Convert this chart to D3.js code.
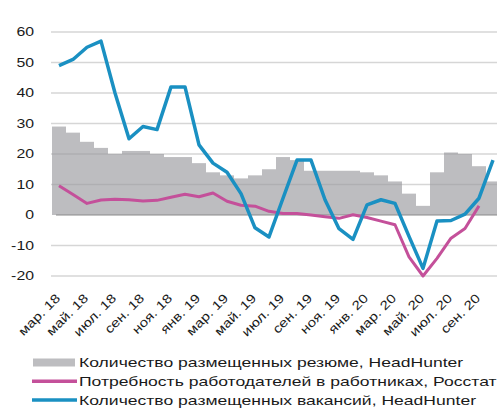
<!DOCTYPE html>
<html>
<head>
<meta charset="utf-8">
<script src="https://cdn.jsdelivr.net/npm/d3@7"></script>
<style>
    body { margin: 0; background: #fff; }
    svg text { font-family: Arial, "Liberation Sans", sans-serif; fill: #1a1a1a; }
</style>
</head>
<body>
<script>
// monthly categories, mar.18 .. oct.20
var months = ["мар. 18","апр. 18","май. 18","июн. 18","июл. 18","авг. 18","сен. 18","окт. 18",
              "ноя. 18","дек. 18","янв. 19","фев. 19","мар. 19","апр. 19","май. 19","июн. 19",
              "июл. 19","авг. 19","сен. 19","окт. 19","ноя. 19","дек. 19","янв. 20","фев. 20",
              "мар. 20","апр. 20","май. 20","июн. 20","июл. 20","авг. 20","сен. 20","окт. 20"];

// Количество размещенных резюме, HeadHunter (bars)
var resumes = [29, 27, 24, 22, 20, 21, 21, 20, 19, 19, 17, 14, 13, 12, 13, 15,
               19, 18, 14.5, 14.5, 14.5, 14.5, 14, 13, 11, 7, 3, 14, 20.5, 20, 16, 11];

// Потребность работодателей в работниках, Росстат (ends at sep.20)
var demand = [9.6, 6.7, 3.8, 4.9, 5.2, 5.0, 4.6, 4.8, 5.8, 6.8, 6.0, 7.2, 4.5, 3.2, 2.9, 1.2,
              0.5, 0.5, 0, -0.6, -1.1, 0.1, -0.8, -2.0, -3.2, -13.7, -20, -14.2, -7.6, -4.4, 3];

// Количество размещенных вакансий, HeadHunter
var vacancies = [49, 51, 55, 57, 40, 25, 29, 28, 42, 42, 23, 17, 14, 7, -4.2, -7.2,
                 5.5, 18, 18, 5, -4.5, -8, 3.3, 5, 3.8, -7, -17.5, -2, -1.8, 0.3, 5.5, 18];

var yTicks = [-20, -10, 0, 10, 20, 30, 40, 50, 60];

var legendItems = [
    { label: "Количество размещенных резюме, HeadHunter", kind: "bar" },
    { label: "Потребность работодателей в работниках, Росстат", kind: "line", color: "#c4509a" },
    { label: "Количество размещенных вакансий, HeadHunter", kind: "line", color: "#1a90c2" }
];

var w = 497, h = 408;
var blue = "#1a90c2", pink = "#c4509a";

var svg = d3.select("body").append("svg")
    .attr("width", w)
    .attr("height", h);

var x = d3.scaleBand().domain(months).range([52, 500]).padding(0);
var y = d3.scaleLinear().domain([-20, 60]).range([276, 32]);

// gridlines (under the bars)
svg.append("g").selectAll("line")
    .data(yTicks.filter(function(d) { return d !== 0; }))
    .enter().append("line")
    .attr("x1", 51).attr("x2", w)
    .attr("y1", function(d) { return y(d); })
    .attr("y2", function(d) { return y(d); })
    .attr("stroke", "#d6d6d6")
    .attr("stroke-width", 1.3);

// y labels
svg.append("g").selectAll("text")
    .data(yTicks)
    .enter().append("text")
    .attr("transform", function(d) { return "translate(34," + y(d) + ") scale(1.32,1)"; })
    .attr("dy", "0.36em")
    .attr("text-anchor", "end")
    .style("font-size", "12px")
    .text(function(d) { return d; });

// resume bars
svg.append("g").selectAll("rect")
    .data(resumes)
    .enter().append("rect")
    .attr("x", function(d, i) { return x(months[i]); })
    .attr("width", x.bandwidth())
    .attr("y", function(d) { return y(Math.max(0, d)); })
    .attr("height", function(d) { return Math.abs(y(d) - y(0)); })
    .attr("fill", "#9a9a9e")
    .attr("fill-opacity", 0.65);

// zero line
svg.append("line")
    .attr("x1", 56).attr("x2", w)
    .attr("y1", y(0)).attr("y2", y(0))
    .attr("stroke", "#8a8a8a")
    .attr("stroke-width", 1.2);

var line = d3.line()
    .x(function(d, i) { return x(months[i]) + x.bandwidth() / 2; })
    .y(function(d) { return y(d); });

svg.append("path")
    .datum(demand)
    .attr("d", line)
    .attr("fill", "none")
    .attr("stroke", pink)
    .attr("stroke-width", 3)
    .attr("stroke-linejoin", "round");

svg.append("path")
    .datum(vacancies)
    .attr("d", line)
    .attr("fill", "none")
    .attr("stroke", blue)
    .attr("stroke-width", 3.5)
    .attr("stroke-linejoin", "round");

// x labels, every second month, rotated
svg.append("g").selectAll("text")
    .data(months.filter(function(d, i) { return i % 2 === 0; }))
    .enter().append("text")
    .attr("transform", function(d) {
        return "translate(" + (x(d) + x.bandwidth() / 2 + 2) + ",299) rotate(-45) scale(1.22,1)";
    })
    .attr("text-anchor", "end")
    .style("font-size", "12.5px")
    .text(function(d) { return d; });

// legend
var leg = svg.append("g");
legendItems.forEach(function(item, i) {
    var ly = 362.5 + i * 18.7;
    if (item.kind === "bar") {
        leg.append("rect")
            .attr("x", 33).attr("y", ly - 4)
            .attr("width", 42).attr("height", 8)
            .attr("fill", "#9a9a9e")
            .attr("fill-opacity", 0.65);
    } else {
        leg.append("line")
            .attr("x1", 32).attr("x2", 77)
            .attr("y1", ly).attr("y2", ly)
            .attr("stroke", item.color)
            .attr("stroke-width", 3.5);
    }
    leg.append("text")
        .attr("transform", "translate(79," + ly + ") scale(1.35,1)")
        .attr("dy", "0.36em")
        .style("font-size", "13px")
        .text(item.label);
});
</script>
</body>
</html>
